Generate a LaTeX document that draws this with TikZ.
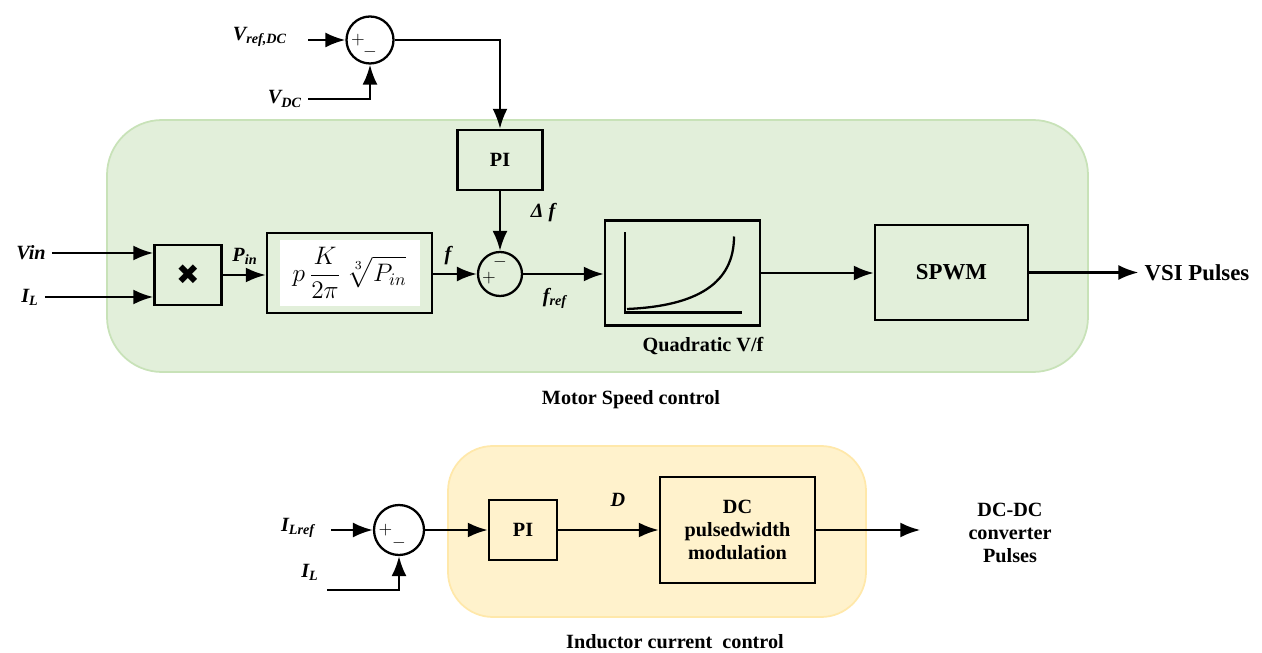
\documentclass[tikz,border=0pt]{standalone}
\usepackage{fontspec}
\setmainfont{Liberation Serif}
\newfontfamily\symbolfont{DejaVu Sans}
\usepackage{amsmath}
\usepackage{tikz}
\usetikzlibrary{arrows.meta, positioning}

\definecolor{motorfill}{RGB}{226,239,218}
\definecolor{motoredge}{RGB}{200,226,184}
\definecolor{inductfill}{RGB}{255,242,204}
\definecolor{inductedge}{RGB}{255,232,170}

\begin{document}
\begin{tikzpicture}[
        font=\fontsize{11.5}{13}\selectfont\bfseries,
        block/.style={rectangle, draw, line width=1.4pt, align=center, inner sep=2pt},
        sumnode/.style={circle, draw, line width=1.3pt, minimum size=0.94cm, inner sep=0pt},
        sign/.style={font=\fontsize{10}{10}\selectfont\normalfont, inner sep=0pt},
        sig/.style={font=\fontsize{11.5}{13}\selectfont\bfseries\itshape},
        region/.style={line width=1pt},
        line/.style={draw, line width=1.4pt, -{Latex[length=0.4cm, width=0.3cm]}}
        ]
        \useasboundingbox (0,0) rectangle (25.24,-13.06);

        % Regions
        \draw [region, fill=motorfill, draw=motoredge, rounded corners=1.1cm] (2.14,-2.4) rectangle (21.76,-7.44);
        \draw [region, fill=inductfill, draw=inductedge, rounded corners=0.9cm] (8.96,-8.92) rectangle (17.32,-12.34);
        \node (motortitle) at (12.62,-8.0) {Motor Speed control};
        \node (inducttitle) at (13.5,-12.84) {Inductor current\ \ control};

        % Motor speed control nodes
        \node [sumnode] (sumdc) at (7.4,-0.8) {};
        \node [sign, right=0.11cm of sumdc.west] (sumdcplus) {$+$};
        \node [sign, above=0.12cm of sumdc.south] (sumdcminus) {$-$};
        \node [sig] (vrefdc) at (5.2,-0.74) {V\textsubscript{ref,DC}};
        \node [sig] (vdc) at (5.7,-1.98) {V\textsubscript{DC}};
        \node [block, minimum width=1.7cm, minimum height=1.2cm] (pidc) at (10.0,-3.2) {PI};
        \node [block, minimum width=1.34cm, minimum height=1.2cm] (mult) at (3.76,-5.5) {\symbolfont\fontsize{16}{16}\selectfont ✖};
        \node [sig] (vin) at (0.62,-5.06) {Vin};
        \node [sig] (il) at (0.6,-5.94) {I\textsubscript{L}};
        \node [block, minimum width=3.3cm, minimum height=1.6cm] (power) at (6.99,-5.46) {};
        \node [fill=white, minimum width=2.8cm, minimum height=1.32cm, font=\fontsize{14}{16}\selectfont] (powertext) at (power)
            {\normalfont$\displaystyle p\,\frac{K}{2\pi}\;\sqrt[3]{P_{in}}$};
        \node [sumnode, minimum size=0.88cm] (sumf) at (10.0,-5.48) {};
        \node [sign, right=0.1cm of sumf.west, yshift=-0.08cm] (sumfplus) {$+$};
        \node [sign, below=0.1cm of sumf.north] (sumfminus) {$-$};
        \node [block, minimum width=3.1cm, minimum height=2.1cm] (vf) at (13.65,-5.46) {};
        \node [block, minimum width=3.06cm, minimum height=1.9cm, font=\fontsize{13}{14}\selectfont\bfseries] (spwm) at (19.03,-5.45) {SPWM};
        \node [font=\fontsize{13}{14}\selectfont\bfseries] (vsi) at (23.94,-5.45) {VSI Pulses};
        \node [sig] (pin) at (4.9,-5.12) {P\textsubscript{in}};
        \node [sig] (flbl) at (8.96,-5.12) {f};
        \node [sig] (dflbl) at (10.86,-4.26) {Δ f};
        \node [sig] (freflbl) at (11.1,-5.96) {f\textsubscript{ref}};
        \node (quadlbl) at (14.06,-6.92) {Quadratic V/f};

        % Quadratic curve
        \draw [line width=1.3pt] ([shift={(-1.15,0.81)}]vf.center) |- ([shift={(1.19,-0.79)}]vf.center);
        \draw [line width=1.3pt] ([shift={(-1.11,-0.72)}]vf.center)
            .. controls ([shift={(0.3,-0.66)}]vf.center) and ([shift={(1.03,-0.2)}]vf.center)
            .. ([shift={(1.03,0.73)}]vf.center);

        % Inductor current control nodes
        \node [sumnode, minimum size=1.0cm] (sumil) at (7.98,-10.6) {};
        \node [sign, right=0.11cm of sumil.west] (sumilplus) {$+$};
        \node [sign, above=0.13cm of sumil.south] (sumilminus) {$-$};
        \node [sig] (ilref) at (5.96,-10.56) {I\textsubscript{Lref}};
        \node [sig] (ilb) at (6.2,-11.44) {I\textsubscript{L}};
        \coordinate (ilstart) at (6.54,-11.8);
        \node [block, minimum width=1.36cm, minimum height=1.2cm] (pil) at (10.46,-10.6) {PI};
        \node [block, minimum width=3.1cm, minimum height=2.12cm, font=\fontsize{11.5}{13}\selectfont\bfseries] (dcpwm) at (14.75,-10.6) {DC\\pulsedwidth\\modulation};
        \node [sig] (dlbl) at (12.36,-10.0) {D};
        \node [align=center, font=\fontsize{11.5}{13}\selectfont\bfseries] (pulses) at (20.2,-10.66) {DC-DC\\converter\\Pulses};

        % Edges
        \path [line] ([xshift=0.3cm]sumdc.west -| vrefdc.east) -- (sumdc.west);
        \path [line] (vdc.east) -| (sumdc.south);
        \path [line] (sumdc.east) -| (pidc.north);
        \path [line] (pidc.south) -- (sumf.north);
        \path [line] (vin.east) -- (vin -| mult.west);
        \path [line] (il.east) -- (il -| mult.west);
        \path [line] (mult.east) -- (power.west |- mult.east);
        \path [line] (power.east |- sumf.west) -- (sumf.west);
        \path [line] (sumf.east) -- (sumf.east -| vf.west);
        \path [line] (vf.east) -- (vf.east -| spwm.west);
        \path [line] (spwm.east) -- (vsi.west);
        \path [line] ([xshift=0.2cm]sumil.west -| ilref.east) -- (sumil.west);
        \path [line] (ilstart) -| (sumil.south);
        \path [line] (sumil.east) -- (pil.west);
        \path [line] (pil.east) -- (dcpwm.west);
        \path [line] (dcpwm.east) -- ([xshift=-0.84cm]pulses.west |- dcpwm.east);
    \end{tikzpicture}
\end{document}
